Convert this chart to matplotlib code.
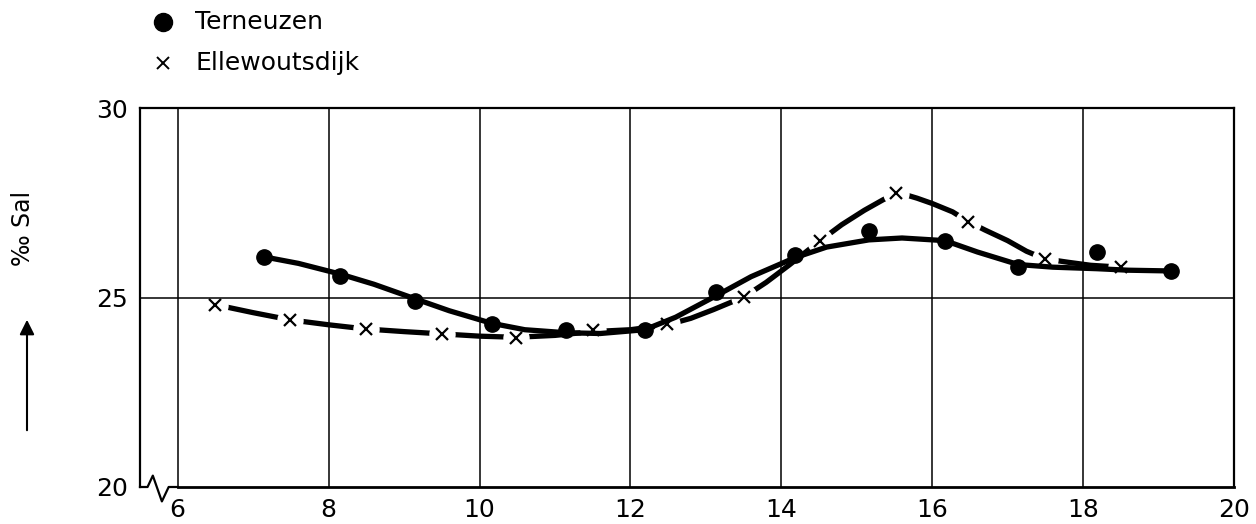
# --------------------------
# Salinity, Terneuzen vs Ellewoutsdijk
# --------------------------
import matplotlib
matplotlib.use("Agg")
import matplotlib.pyplot as plt
from matplotlib.lines import Line2D

# --------------------------
# Data
# --------------------------
terneuzen_x = [7.15, 8.15, 9.14, 10.16, 11.15, 12.19, 13.14, 14.18, 15.16, 16.17, 17.14, 18.18, 19.17]
terneuzen_y = [26.07, 25.58, 24.92, 24.30, 24.13, 24.13, 25.14, 26.11, 26.75, 26.49, 25.80, 26.20, 25.70]

ellewoutsdijk_x = [6.5, 7.49, 8.49, 9.5, 10.48, 11.5, 12.49, 13.51, 14.51, 15.52, 16.48, 17.49, 18.5]
ellewoutsdijk_y = [24.81, 24.41, 24.17, 24.04, 23.93, 24.13, 24.29, 25.01, 26.49, 27.77, 26.99, 26.02, 25.80]

# hand drawn curves through the points
terneuzen_fit_x = [7.15, 7.6, 8.15, 8.6, 9.14, 9.6, 10.16, 10.6, 11.15, 11.6, 12.19, 12.6,
                   13.14, 13.6, 14.18, 14.6, 15.16, 15.6, 16.17, 16.6, 17.14, 17.6, 18.18, 18.6, 19.17]
terneuzen_fit_y = [26.07, 25.9, 25.62, 25.35, 24.97, 24.65, 24.32, 24.15, 24.07, 24.05, 24.15, 24.48,
                   25.05, 25.55, 26.05, 26.33, 26.52, 26.57, 26.5, 26.2, 25.87, 25.8, 25.76, 25.72, 25.70]

ellewoutsdijk_fit_x = [6.5, 7.0, 7.49, 8.0, 8.49, 9.0, 9.5, 10.0, 10.48, 11.0, 11.5, 12.0, 12.49,
                       12.8, 13.1, 13.51, 13.8, 14.1, 14.51, 14.8, 15.1, 15.35, 15.55, 15.8, 16.0,
                       16.27, 16.48, 16.7, 17.0, 17.25, 17.49, 17.8, 18.1, 18.5]
ellewoutsdijk_fit_y = [24.81, 24.6, 24.41, 24.28, 24.17, 24.1, 24.04, 23.98, 23.95, 24.0, 24.1, 24.15, 24.28,
                       24.45, 24.68, 25.02, 25.4, 25.85, 26.49, 26.92, 27.3, 27.58, 27.77, 27.62, 27.48,
                       27.26, 27.0, 26.78, 26.5, 26.22, 26.02, 25.93, 25.85, 25.80]

x_ticks = [6, 8, 10, 12, 14, 16, 18, 20]
y_ticks = [20, 25, 30]

# --------------------------
# Figure
# --------------------------
plt.rcParams['font.family'] = ['DejaVu Sans']
fig = plt.figure(figsize=(12.56, 5.24), dpi=100)
ax = fig.add_axes([140 / 1256, 1 - 487 / 524, 1094 / 1256, 379 / 524])

ax.set_xlim(5.5, 20)
ax.set_ylim(20, 30)

# grid lines (none over the axis break)
for gx in x_ticks[:-1]:
    ax.axvline(gx, color='black', lw=1.1, zorder=4)
ax.axhline(25, color='black', lw=1.1, zorder=4)

# Ellewoutsdijk: thick curve, broken around each cross
ax.plot(ellewoutsdijk_fit_x, ellewoutsdijk_fit_y, color='black', lw=3.8,
        solid_capstyle='butt', zorder=2)
ax.plot(ellewoutsdijk_x, ellewoutsdijk_y, 'o', color='white', ms=19, mew=0, zorder=3)

# Terneuzen: solid curve
ax.plot(terneuzen_fit_x, terneuzen_fit_y, color='black', lw=3.8,
        solid_capstyle='round', zorder=3.5)

ax.plot(terneuzen_x, terneuzen_y, 'o', color='black', ms=11, zorder=5)
ax.plot(ellewoutsdijk_x, ellewoutsdijk_y, 'x', color='black', ms=9, mew=1.6, zorder=5)

# --------------------------
# Axes, ticks, break symbol
# --------------------------
for side in ['left', 'top', 'right']:
    ax.spines[side].set_linewidth(1.6)
ax.spines['bottom'].set_linewidth(2.0)
ax.spines['bottom'].set_bounds(6, 20)

ax.plot([5.5, 5.6, 5.67, 5.79, 5.88, 6.0], [20, 20, 20.3, 19.62, 20, 20],
        color='black', lw=1.6, clip_on=False, zorder=6)

ax.set_xticks(x_ticks)
ax.set_yticks(y_ticks)
ax.tick_params(length=0, labelsize=18, pad=8)
ax.tick_params(axis='y', pad=9)

# --------------------------
# Y label with arrow
# --------------------------
fig.text(23 / 1256, 1 - 228 / 524, "\u2030 Sal", rotation=90, fontsize=17,
         ha='center', va='center')
ax.annotate('', xy=(27 / 1256, 1 - 317 / 524), xytext=(27 / 1256, 1 - 433 / 524),
            xycoords='figure fraction', textcoords='figure fraction',
            arrowprops=dict(arrowstyle='-|>', lw=1.5, color='black', mutation_scale=22))

# --------------------------
# Legend (top left)
# --------------------------
fig.add_artist(Line2D([163 / 1256], [1 - 22 / 524], marker='o', color='black', ms=13,
                      transform=fig.transFigure))
fig.add_artist(Line2D([163 / 1256], [1 - 63 / 524], marker='x', color='black', ms=9, mew=1.4,
                      transform=fig.transFigure))
fig.text(195 / 1256, 1 - 22 / 524, "Terneuzen", fontsize=18, va='center', ha='left')
fig.text(195 / 1256, 1 - 63 / 524, "Ellewoutsdijk", fontsize=18, va='center', ha='left')

fig.savefig("out.png", dpi=100)
